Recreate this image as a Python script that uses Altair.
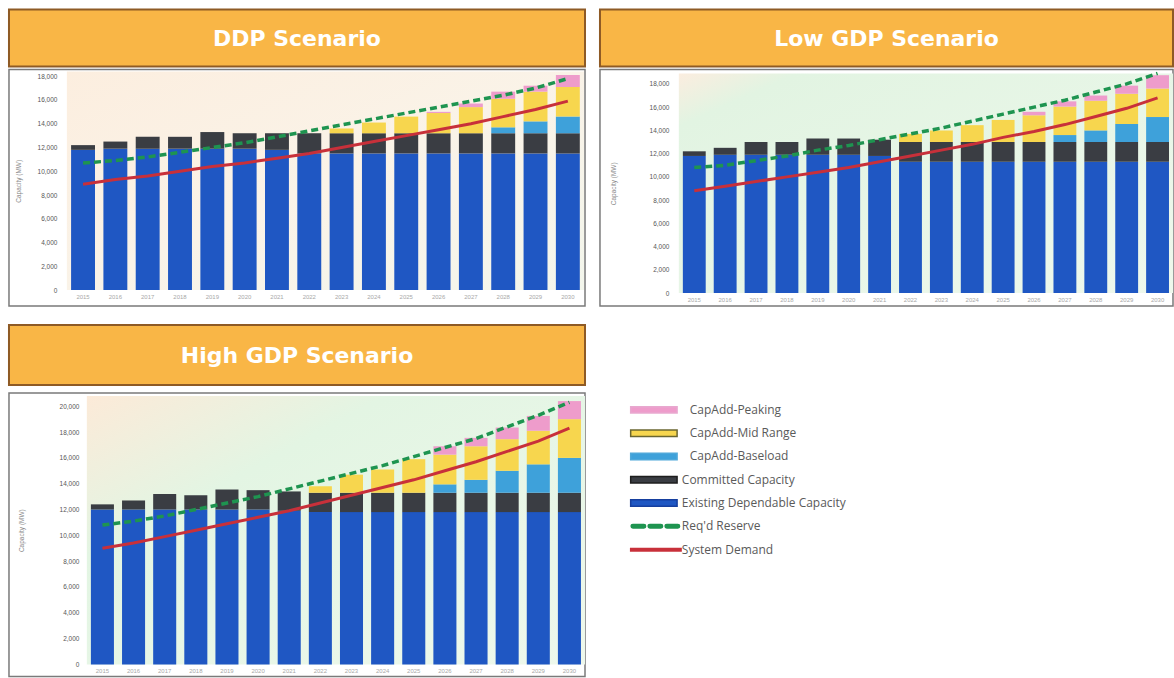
import altair as alt
import pandas as pd

YEARS = [str(y) for y in range(2015, 2031)]
COMPONENTS = ["Existing Dependable Capacity", "Committed Capacity", "CapAdd-Baseload",
              "CapAdd-Mid Range", "CapAdd-Peaking"]
COLORS = ["#1F57C3", "#3A3D43", "#3EA1DA", "#F7D64E", "#EE9CCB"]

LEGEND_LABELS = ["CapAdd-Peaking", "CapAdd-Mid Range", "CapAdd-Baseload", "Committed Capacity",
                 "Existing Dependable Capacity", "Req'd Reserve", "System Demand"]
LEGEND_COLORS = ["#EE9CCB", "#F7D64E", "#3EA1DA", "#3A3D43", "#1F57C3", "#1E9450", "#C8303A"]
LEGEND_BORDERS = ["#E8A8CF", "#6A6630", "#4FA8DA", "#1E1E1E", "#163F9E", "#1E9450", "#C8303A"]

# ---------------- DDP scenario (MW) ----------------
ddp_existing = [11800, 11900, 11900, 11900, 11900, 11900, 11800, 11500, 11500, 11500, 11500, 11500, 11500, 11500, 11500, 11500]
ddp_committed = [400, 600, 1000, 1000, 1400, 1300, 1400, 1700, 1700, 1700, 1700, 1700, 1700, 1700, 1700, 1700]
ddp_baseload = [0, 0, 0, 0, 0, 0, 0, 0, 0, 0, 0, 0, 0, 500, 1000, 1400]
ddp_midrange = [0, 0, 0, 0, 0, 0, 0, 0, 400, 900, 1400, 1700, 2200, 2400, 2500, 2500]
ddp_peaking = [0, 0, 0, 0, 0, 0, 0, 0, 0, 0, 0, 100, 300, 600, 500, 1000]
ddp_demand = [8900, 9300, 9600, 10000, 10400, 10700, 11100, 11500, 12000, 12500, 13000, 13500, 14000, 14600, 15200, 15900]
ddp_reserve = [10700, 10900, 11200, 11600, 12000, 12400, 12900, 13400, 13900, 14400, 14900, 15400, 15900, 16400, 17000, 17800]

# ---------------- Low GDP scenario (MW) ----------------
low_existing = [11800, 11900, 11900, 11900, 11900, 11900, 11800, 11300, 11300, 11300, 11300, 11300, 11300, 11300, 11300, 11300]
low_committed = [400, 600, 1100, 1100, 1400, 1400, 1400, 1700, 1700, 1700, 1700, 1700, 1700, 1700, 1700, 1700]
low_baseload = [0, 0, 0, 0, 0, 0, 0, 0, 0, 0, 0, 0, 600, 1000, 1550, 2150]
low_midrange = [0, 0, 0, 0, 0, 0, 0, 700, 1000, 1450, 1900, 2300, 2450, 2550, 2600, 2450]
low_peaking = [0, 0, 0, 0, 0, 0, 0, 0, 0, 0, 0, 300, 450, 450, 700, 1150]
low_demand = [8800, 9200, 9600, 10000, 10400, 10800, 11300, 11800, 12300, 12800, 13400, 13900, 14500, 15200, 15900, 16800]
low_reserve = [10800, 11000, 11400, 11800, 12300, 12700, 13200, 13700, 14200, 14800, 15400, 16000, 16600, 17300, 18000, 18900]

# ---------------- High GDP scenario (MW) ----------------
high_existing = [12000, 12000, 12000, 12000, 12000, 12000, 11900, 11800, 11800, 11800, 11800, 11800, 11800, 11800, 11800, 11800]
high_committed = [400, 700, 1200, 1100, 1550, 1500, 1500, 1500, 1500, 1500, 1500, 1500, 1500, 1500, 1500, 1500]
high_baseload = [0, 0, 0, 0, 0, 0, 0, 0, 0, 0, 0, 650, 1000, 1700, 2200, 2700]
high_midrange = [0, 0, 0, 0, 0, 0, 0, 500, 1400, 1800, 2600, 2300, 2600, 2450, 2600, 3000]
high_peaking = [0, 0, 0, 0, 0, 0, 0, 0, 0, 0, 0, 650, 650, 900, 1150, 1400]
high_demand = [9000, 9400, 9900, 10400, 10900, 11400, 11900, 12500, 13100, 13700, 14300, 15000, 15700, 16500, 17300, 18300]
high_reserve = [10800, 11100, 11500, 12000, 12500, 13000, 13600, 14200, 14800, 15400, 16100, 16800, 17500, 18400, 19300, 20300]

ONE = pd.DataFrame({"k": [0]})


def legend_layers(x0, y0, y1):
    """Hand-built legend drawn beside a panel (rows placed with a point scale)."""
    leg_df = pd.DataFrame({"label": LEGEND_LABELS, "idx": list(range(7))})
    leg_y = alt.Y("label:N", axis=None,
                  scale=alt.Scale(type="point", domain=LEGEND_LABELS, range=[y0, y1], padding=0))
    out = []
    for i, (col, bord) in enumerate(zip(LEGEND_COLORS, LEGEND_BORDERS)):
        base = alt.Chart(leg_df).transform_filter(f"datum.idx == {i}")
        if i < 5:
            out.append(base.mark_rule(strokeWidth=8, color=bord).encode(
                x=alt.value(x0), x2=alt.value(x0 + 48), y=leg_y))
            out.append(base.mark_rule(strokeWidth=5, color=col).encode(
                x=alt.value(x0 + 1.5), x2=alt.value(x0 + 46.5), y=leg_y))
        elif i == 5:
            out.append(base.mark_rule(strokeWidth=5, color=col, strokeDash=[11, 6],
                                      strokeCap="round").encode(
                x=alt.value(x0 + 3), x2=alt.value(x0 + 48), y=leg_y))
        else:
            out.append(base.mark_rule(strokeWidth=4, color=col).encode(
                x=alt.value(x0), x2=alt.value(x0 + 52), y=leg_y))
        out.append(base.mark_text(align="left", baseline="middle", fontSize=12, color="#5a5a5a",
                                  font="Open Sans").encode(
            x=alt.value(x0 + (60 if i < 3 else 52)), y=leg_y, text="label:N"))
    return out


def panel(title, comps, demand, reserve, ymax, ymax_tick, w, h, px0, px1, py0,
          fl, fr, ft, fb, b0, b1, lab_pad, title_pad, stops, extra=None):
    """px0/px1/py0: plot-area extent in the cell's own pixel frame."""
    rows = []
    for i, yr in enumerate(YEARS):
        for k, (name, arr) in enumerate(zip(COMPONENTS, comps)):
            rows.append({"year": yr, "component": name, "mw": arr[i], "order": k})
    bars_df = pd.DataFrame(rows)
    dem_df = pd.DataFrame({"year": YEARS, "mw": demand})
    res_df = pd.DataFrame({"year": YEARS, "mw": reserve})

    x = alt.X("year:O", title=None,
              scale=alt.Scale(paddingInner=0.26, paddingOuter=0.13, range=[px0, px1]),
              axis=alt.Axis(labelAngle=0, labelFontSize=6, labelColor="#a8a8a8", domain=False,
                            ticks=False, labelPadding=3, labelFont="Liberation Sans", zindex=2))
    yaxis = alt.Axis(values=list(range(0, ymax_tick + 1, 2000)), format=",.0f", formatType="number",
                     orient="left", labelFontSize=6.5, labelColor="#555555", domain=False, ticks=False,
                     grid=False, labelPadding=lab_pad, offset=-px0,
                     title="Capacity (MW)", titleFontSize=6.5, titleFontWeight="normal",
                     titleColor="#8a8a8a", titlePadding=title_pad, labelFont="Liberation Sans",
                     titleFont="Liberation Sans", zindex=2)
    yscale = alt.Scale(domain=[0, ymax], nice=False, range=[h, py0])
    line_axis = None if extra else yaxis

    frame = alt.Chart(ONE).mark_rect(fill="white", stroke="#7a7a7a", strokeWidth=1.5).encode(
        x=alt.value(fl), x2=alt.value(fr), y=alt.value(ft), y2=alt.value(fb))
    bg = alt.Chart(ONE).mark_rect(
        fill=alt.Gradient(gradient="linear", x1=0, x2=1, y1=0, y2=1,
                          stops=[alt.GradientStop(color=c, offset=o) for o, c in stops])).encode(
        x=alt.value(px0), x2=alt.value(px1), y=alt.value(py0), y2=alt.value(h))
    bars = alt.Chart(bars_df).mark_bar().encode(
        x=x,
        y=alt.Y("mw:Q", stack="zero", scale=yscale, axis=yaxis),
        color=alt.Color("component:N", scale=alt.Scale(domain=COMPONENTS, range=COLORS), legend=None),
        order=alt.Order("order:Q"))
    res = alt.Chart(res_df).mark_line(color="#1E9450", strokeWidth=3.5, strokeDash=[7, 4]).encode(
        x=x, y=alt.Y("mw:Q", scale=yscale, axis=line_axis))
    dem = alt.Chart(dem_df).mark_line(color="#C8303A", strokeWidth=3).encode(
        x=x, y=alt.Y("mw:Q", scale=yscale, axis=line_axis))
    banner = alt.Chart(ONE).mark_rect(fill="#F9B646", stroke="#8E5A25", strokeWidth=2).encode(
        x=alt.value(fl), x2=alt.value(fr), y=alt.value(b0), y2=alt.value(b1))
    btext = alt.Chart(ONE).mark_text(text=title, color="white", fontSize=22, fontWeight="bold",
                                     font="DejaVu Sans", align="center", baseline="middle").encode(
        x=alt.value((fl + fr) / 2), y=alt.value((b0 + b1) / 2 + 1))
    layers = [frame, bg, bars, res, dem, banner, btext] + (extra or [])
    ch = alt.layer(*layers).properties(width=w, height=h)
    if extra:
        ch = ch.resolve_scale(y="independent", color="independent")
    return ch


ddp = panel("DDP Scenario",
            [ddp_existing, ddp_committed, ddp_baseload, ddp_midrange, ddp_peaking],
            ddp_demand, ddp_reserve, 18400, 18000, 518, 209, 0, 518, -10,
            -58, 519, -12, 225, -72, -15, 10, 16,
            [(0, "#FCEEDF"), (0.5, "#FAF3E8"), (1, "#F3F6EC")])
low = panel("Low GDP Scenario",
            [low_existing, low_committed, low_baseload, low_midrange, low_peaking],
            low_demand, low_reserve, 18900, 18000, 495, 212, 0, 495, -8,
            -79, 495, -12, 225, -72, -15, 10, 33,
            [(0, "#FBEDDF"), (0.12, "#E2F4E2"), (1, "#EEF8EC")])
high = panel("High GDP Scenario",
             [high_existing, high_committed, high_baseload, high_midrange, high_peaking],
             high_demand, high_reserve, 20800, 20000, 519, 268, 20, 519, -1,
             -58, 519, -4, 280, -72, -12, 8, 35,
             [(0, "#FCEAD8"), (0.3, "#E3F5E3"), (1, "#EEF8EC")],
             extra=legend_layers(564, 13, 153))

top = alt.hconcat(ddp, low, spacing=13)
chart = alt.vconcat(top, high, spacing=17).properties(
    padding={"left": 8, "top": 8, "right": 0, "bottom": 0},
    background="white"
).configure_view(stroke=None)

chart.save("out.html", embed_options={"renderer": "svg", "actions": False})
